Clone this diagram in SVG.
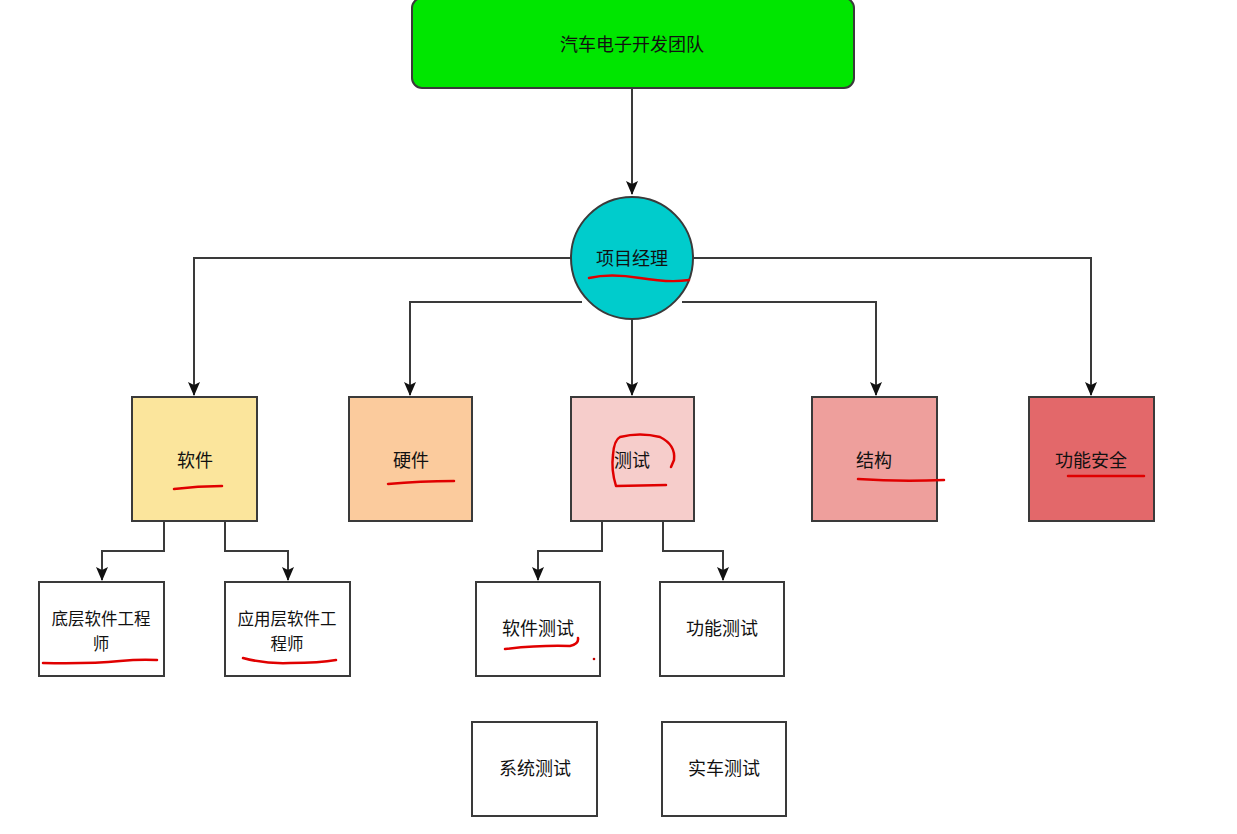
<svg xmlns="http://www.w3.org/2000/svg" width="1237" height="834" viewBox="0 0 1237 834">
<style>
.box{stroke:#3a3a3a;stroke-width:2}
.lbl{font-family:"Noto Sans CJK SC","Liberation Sans",sans-serif;font-size:18px;fill:#111;text-anchor:middle;dominant-baseline:central}
.two{font-size:16.5px}
.edge{fill:none;stroke:#3a3a3a;stroke-width:2}
.ink{fill:none;stroke:#e00000;stroke-width:2.5;stroke-linecap:round;stroke-linejoin:round}
</style>
<defs>
<marker id="a" markerUnits="userSpaceOnUse" markerWidth="14" markerHeight="12" viewBox="0 0 14 12" refX="13" refY="6" orient="auto">
<path d="M0,0 L14,6 L0,12 L3,6 Z" fill="#111"/>
</marker>
</defs>
<rect width="1237" height="834" fill="#ffffff"/>
<g id="connectors">
<path class="edge" d="M632,89 V194" marker-end="url(#a)"/>
<path class="edge" d="M571,258 H194 V395" marker-end="url(#a)"/>
<path class="edge" d="M693,258 H1091 V395" marker-end="url(#a)"/>
<path class="edge" d="M582,302 H410 V395" marker-end="url(#a)"/>
<path class="edge" d="M682,302 H876 V395" marker-end="url(#a)"/>
<path class="edge" d="M632,319 V395" marker-end="url(#a)"/>
<path class="edge" d="M164,521 V551 H102 V580" marker-end="url(#a)"/>
<path class="edge" d="M225,521 V551 H288 V580" marker-end="url(#a)"/>
<path class="edge" d="M602,521 V551 H538 V580" marker-end="url(#a)"/>
<path class="edge" d="M663,521 V551 H723 V580" marker-end="url(#a)"/>
</g>
<g id="team">
<rect class="box" x="412" y="-2" width="442" height="90" rx="10" fill="#00e600"/>
<text class="lbl" x="632" y="43">汽车电子开发团队</text>
</g>
<g id="pm">
<circle class="box" cx="632" cy="258" r="61" fill="#00cccc"/>
<text class="lbl" x="632" y="257">项目经理</text>
</g>
<g id="software">
<rect class="box" x="132" y="397" width="125" height="124" fill="#fbe59c"/>
<text class="lbl" x="195" y="459">软件</text>
</g>
<g id="hardware">
<rect class="box" x="349" y="397" width="123" height="124" fill="#fbcb9d"/>
<text class="lbl" x="411" y="459">硬件</text>
</g>
<g id="test">
<rect class="box" x="571" y="397" width="123" height="124" fill="#f6cdcb"/>
<text class="lbl" x="632" y="459">测试</text>
</g>
<g id="structure">
<rect class="box" x="812" y="397" width="125" height="124" fill="#ee9f9c"/>
<text class="lbl" x="874" y="459">结构</text>
</g>
<g id="safety">
<rect class="box" x="1029" y="397" width="125" height="124" fill="#e3686a"/>
<text class="lbl" x="1091" y="459">功能安全</text>
</g>
<g id="lowsw">
<rect class="box" x="39" y="582" width="125" height="94" fill="#ffffff"/>
<text class="lbl two" x="101" y="618">底层软件工程<tspan x="101" dy="25">师</tspan></text>
</g>
<g id="appsw">
<rect class="box" x="225" y="582" width="125" height="94" fill="#ffffff"/>
<text class="lbl two" x="287" y="618">应用层软件工<tspan x="287" dy="25">程师</tspan></text>
</g>
<g id="swtest">
<rect class="box" x="476" y="582" width="124" height="94" fill="#ffffff"/>
<text class="lbl" x="538" y="627">软件测试</text>
</g>
<g id="functest">
<rect class="box" x="660" y="582" width="124" height="94" fill="#ffffff"/>
<text class="lbl" x="722" y="627">功能测试</text>
</g>
<g id="systest">
<rect class="box" x="472" y="722" width="125" height="94" fill="#ffffff"/>
<text class="lbl" x="535" y="767">系统测试</text>
</g>
<g id="cartest">
<rect class="box" x="662" y="722" width="124" height="94" fill="#ffffff"/>
<text class="lbl" x="724" y="767">实车测试</text>
</g>
<g id="annotations">
<path class="ink" d="M589,278 Q610,273 640,278 T689,280"/>
<path class="ink" d="M174,489 Q198,486 222,486"/>
<path class="ink" d="M388,484 Q420,481 454,481"/>
<path class="ink" d="M666,485 L616,486 Q611,470 613,455 Q614,440 620,437 Q640,432 660,437 Q676,445 674,460 L671,467"/>
<path class="ink" d="M858,479 Q900,482 944,480"/>
<path class="ink" d="M1068,476 L1144,476"/>
<path class="ink" d="M43,663 Q90,664 120,661 Q140,659 157,660"/>
<path class="ink" d="M243,658 Q265,664 290,663 Q320,663 336,660"/>
<path class="ink" d="M505,649 Q540,645 570,646 Q579,644 578,638"/>
<circle cx="594" cy="659" r="1.3" fill="#c00000"/>
</g>
</svg>
